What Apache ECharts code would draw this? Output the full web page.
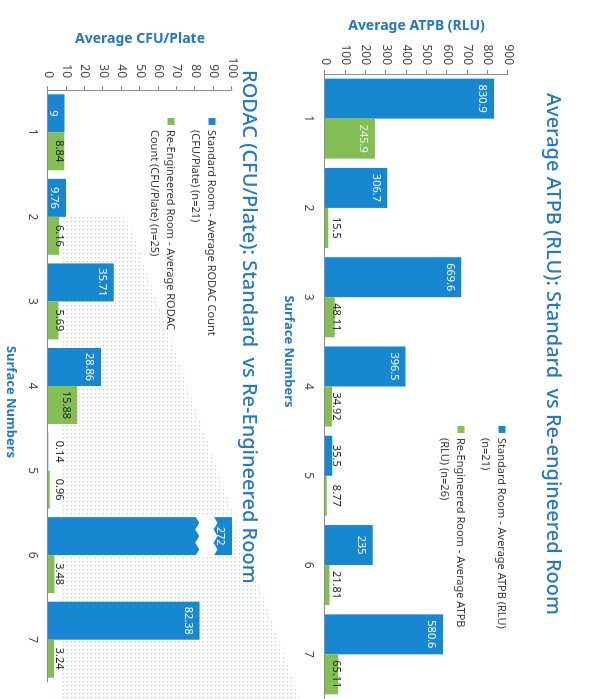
<!DOCTYPE html>
<html>
<head>
<meta charset="utf-8">
<script src="https://cdn.jsdelivr.net/npm/echarts@6/dist/echarts.min.js"></script>
<style>
  html, body { margin: 0; padding: 0; background: #fff; overflow: hidden; }
  /* the scanned page is turned on its side, so the chart is drawn upright and rotated */
  #main {
    position: absolute; left: 0; top: 0;
    width: 699px; height: 589px;
    transform-origin: 0 0;
    transform: translate(589px, 0) rotate(90deg);
  }
</style>
</head>
<body>
<div id="main"></div>
<script>
const categories = ['1', '2', '3', '4', '5', '6', '7'];

const atpbStandard = [830.9, 306.7, 669.6, 396.5, 35.5, 235, 580.6];
const atpbReEngineered = [245.9, 15.5, 48.11, 34.92, 8.77, 21.81, 65.11];
const atpbNames = ['Standard Room - Average ATPB (RLU)\n(n=21)', 'Re-Engineered Room - Average ATPB\n(RLU) (n=26)'];

const rodacStandard = [9, 9.76, 35.71, 28.86, 0.14, 272, 82.38];
const rodacReEngineered = [8.84, 6.16, 5.69, 15.88, 0.96, 3.48, 3.24];
const rodacNames = ['Standard Room - Average RODAC Count\n(CFU/Plate) (n=21)', 'Re-Engineered Room - Average RODAC\nCount (CFU/Plate) (n=25)'];

const atpbAxis = { min: 0, max: 900, interval: 100 };
const rodacAxis = { min: 0, max: 100, interval: 10 };

const BLUE = '#1787d2';
const GREEN = '#83bf55';
const TITLE_BLUE = '#2479c2';
const DARK = '#262626';
const FONT = 'Noto Sans';

// labels sit inside the bar end when there is room, otherwise near the base in dark text
function makeData(values, minInside, insideColor) {
    return values.map(v => v >= minInside
        ? { value: v, label: { position: 'insideTop', color: insideColor } }
        : { value: v, label: { position: 'insideBottom', color: DARK } });
}

const legendIcon = 'path://M0,0H10V10H0Z M0,36H0.01';

function valueAxis(grid, cfg, name, gap, margin) {
    return {
        type: 'value', gridIndex: grid,
        min: cfg.min, max: cfg.max, interval: cfg.interval,
        name: name, nameLocation: 'middle', nameGap: gap,
        nameTextStyle: { color: TITLE_BLUE, fontSize: 14, fontWeight: 'bold', fontFamily: FONT },
        axisLine: { show: true, lineStyle: { color: '#8c8c8c' } },
        axisTick: { show: true, length: 4, lineStyle: { color: '#8c8c8c' } },
        axisLabel: { color: '#4a4a4a', fontSize: 12, margin: margin, fontFamily: FONT },
        splitLine: { show: false }
    };
}

function categoryAxis(grid, gap, pad, margin) {
    return {
        type: 'category', gridIndex: grid, data: categories,
        name: 'Surface Numbers', nameLocation: 'middle', nameGap: gap,
        nameTextStyle: { color: TITLE_BLUE, fontSize: 13, fontWeight: 'bold', fontFamily: FONT, padding: pad },
        axisLine: { lineStyle: { color: '#8c8c8c' } },
        axisTick: { length: 5, lineStyle: { color: '#8c8c8c' } },
        axisLabel: { color: '#4a4a4a', fontSize: 12, margin: margin, fontFamily: FONT }
    };
}

const labelBase = { show: true, fontSize: 11, distance: 6, fontFamily: FONT, formatter: '{c}' };

const chart = echarts.init(document.getElementById('main'));

const option = {
    animation: false,
    backgroundColor: '#fff',
    textStyle: { fontFamily: FONT },
    title: [
        {
            text: 'Average ATPB (RLU): Standard  vs Re-engineered Room',
            left: 93, top: 26, padding: 0,
            textStyle: { color: TITLE_BLUE, fontSize: 20, fontWeight: 500, fontFamily: FONT }
        },
        {
            text: 'RODAC (CFU/Plate): Standard  vs Re-Engineered Room',
            left: 70, top: 330, padding: 0,
            textStyle: { color: TITLE_BLUE, fontSize: 20, fontWeight: 500, fontFamily: FONT }
        }
    ],
    legend: [
        {
            data: atpbNames, orient: 'vertical', left: 426, top: 80, padding: 0,
            icon: legendIcon, itemWidth: 7, itemHeight: 25, itemGap: 9,
            textStyle: { color: '#3a3a3a', fontSize: 11, lineHeight: 16, fontFamily: FONT }
        },
        {
            data: rodacNames, orient: 'vertical', left: 118, top: 370, padding: 0,
            icon: legendIcon, itemWidth: 7, itemHeight: 25, itemGap: 9,
            textStyle: { color: '#3a3a3a', fontSize: 11, lineHeight: 16, fontFamily: FONT }
        }
    ],
    grid: [
        { left: 74, top: 81, width: 640, height: 183 },
        { left: 90, top: 357, width: 592, height: 184 }
    ],
    xAxis: [
        categoryAxis(0, 30, [0, 70, 0, 0], 11),
        categoryAxis(1, 31, [0, 0, 0, 32], 10)
    ],
    yAxis: [
        valueAxis(0, atpbAxis, 'Average ATPB (RLU)', 38, 9),
        valueAxis(1, rodacAxis, 'Average CFU/Plate', 36, 12)
    ],
    series: [
        {
            name: atpbNames[0], type: 'bar', xAxisIndex: 0, yAxisIndex: 0,
            barWidth: 40, barGap: '0%',
            itemStyle: { color: BLUE },
            label: labelBase,
            data: makeData(atpbStandard, 100, '#fff')
        },
        {
            name: atpbNames[1], type: 'bar', xAxisIndex: 0, yAxisIndex: 0,
            barWidth: 40, barGap: '0%',
            itemStyle: { color: GREEN },
            label: labelBase,
            data: makeData(atpbReEngineered, 100, '#f2f2f2')
        },
        {
            name: rodacNames[0], type: 'bar', xAxisIndex: 1, yAxisIndex: 1,
            barWidth: 38, barGap: '0%', clip: true,
            itemStyle: { color: BLUE },
            label: labelBase,
            data: makeData(rodacStandard, 9, '#fff')
        },
        {
            name: rodacNames[1], type: 'bar', xAxisIndex: 1, yAxisIndex: 1,
            barWidth: 38, barGap: '0%',
            itemStyle: { color: GREEN },
            label: labelBase,
            data: makeData(rodacReEngineered, 10, DARK)
        }
    ]
};

chart.setOption(option);

// zig-zag break on the RODAC bar that runs past the axis maximum
function breakMark() {
    const idx = rodacStandard.findIndex(v => v > rodacAxis.max);
    if (idx < 0) return [];
    const cx = chart.convertToPixel({ xAxisIndex: 1 }, idx);
    const x0 = cx - 38 - 1, x1 = cx + 1;
    const yLow = chart.convertToPixel({ yAxisIndex: 1 }, 80);
    const yHigh = chart.convertToPixel({ yAxisIndex: 1 }, 90);
    const teeth = 6, amp = 4;
    const lower = [], upper = [];
    for (let i = 0; i <= teeth; i++) {
        const x = x0 + (x1 - x0) * i / teeth;
        const off = i % 2 ? -amp : 0;
        lower.push([x, yLow + off]);
        upper.push([x, yHigh + off]);
    }
    return [{
        type: 'polygon', z: 10,
        shape: { points: lower.concat(upper.reverse()) },
        style: { fill: '#fff' }
    }];
}

// faint halftone dots from the printed background
function dotPattern() {
    const c = document.createElement('canvas');
    c.width = 4; c.height = 4;
    const ctx = c.getContext('2d');
    ctx.fillStyle = 'rgba(105,175,95,0.45)';
    ctx.fillRect(1, 1, 1.2, 1.2);
    return c;
}

const g1 = chart.convertToPixel({ xAxisIndex: 1 }, 1);
chart.setOption({
    graphic: [
        {
            type: 'polygon', z: 0, silent: true,
            shape: { points: [[g1, 529], [g1, 462], [699, 289], [699, 529]] },
            style: { fill: { image: dotPattern(), repeat: 'repeat' } }
        }
    ].concat(breakMark())
});
</script>
</body>
</html>
